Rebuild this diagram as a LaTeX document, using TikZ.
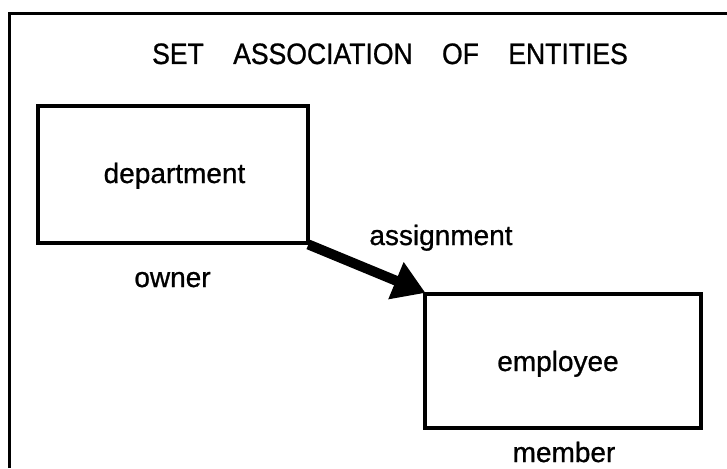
\documentclass[tikz,border=0pt]{standalone}
\usepackage{fontspec}
\setmainfont{Liberation Sans}[FakeBold=0.8]
\newfontfamily\condfont[FakeStretch=0.9,FakeBold=0.8]{Liberation Sans}
\usetikzlibrary{arrows.meta}
\tikzset{
  entitybox/.style={draw, line width=4.5pt, inner sep=0pt},
  lbl/.style={anchor=base, inner sep=0pt, font=\fontsize{28}{30}\selectfont},
  framestyle/.style={line width=3pt},
  assoc/.style={line width=10pt, -{Triangle[length=32pt,width=38pt]}, shorten >=-3pt, shorten <=-2pt}
}
\begin{document}
\begin{tikzpicture}[x=1pt,y=1pt]
\useasboundingbox (0,0) rectangle (727,-468);
% frame
\coordinate (fl) at (9,-468);
\coordinate (fc) at (9,-13.5);
\coordinate (fr) at (727,-13.5);
\draw[framestyle] (fl) -- (fc) -- (fr);
% title
\node[anchor=base, inner sep=0pt, font=\condfont\fontsize{29.5}{31}\selectfont] (title) at (390,-64)
  {SET\hspace{22pt} ASSOCIATION\hspace{22pt} OF\hspace{22pt} ENTITIES};
% boxes
\node[entitybox, minimum width=270pt, minimum height=137pt] (dept) at (173,-174.5) {};
\node[entitybox, minimum width=276pt, minimum height=134pt] (emp) at (563,-361) {};
% labels
\node[lbl] (deptl) at (174.5,-183) {department};
\node[lbl] (empl) at (558,-371) {employee};
\node[lbl] (owner) at (172.5,-287) {owner};
\node[lbl] (member) at (564,-462) {member};
\node[lbl] (assign) at (441,-245) {assignment};
% arrow
\draw[assoc] (dept.south east) -- (emp.north west);
\end{tikzpicture}
\end{document}
